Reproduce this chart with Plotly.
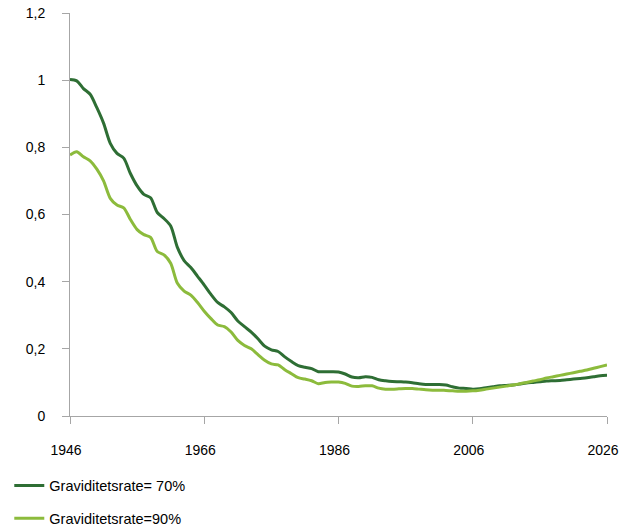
import plotly.graph_objects as go

years = list(range(1946, 2027))

rate70 = [1.002, 0.998, 0.975, 0.958, 0.918, 0.872, 0.812, 0.782, 0.768, 0.722,
          0.685, 0.660, 0.650, 0.606, 0.588, 0.566, 0.502, 0.463, 0.442, 0.416,
          0.390, 0.362, 0.338, 0.325, 0.308, 0.283, 0.266, 0.250, 0.230, 0.208,
          0.197, 0.192, 0.176, 0.162, 0.150, 0.145, 0.141, 0.132, 0.132, 0.132,
          0.131, 0.125, 0.116, 0.114, 0.117, 0.115, 0.108, 0.105, 0.103, 0.102,
          0.101, 0.099, 0.096, 0.094, 0.094, 0.094, 0.092, 0.087, 0.083, 0.082,
          0.080, 0.081, 0.084, 0.087, 0.090, 0.091, 0.092, 0.095, 0.098, 0.100,
          0.102, 0.104, 0.105, 0.106, 0.108, 0.110, 0.112, 0.114, 0.117, 0.120,
          0.121]

rate90 = [0.777, 0.787, 0.772, 0.760, 0.735, 0.700, 0.648, 0.628, 0.620, 0.585,
          0.555, 0.540, 0.532, 0.490, 0.480, 0.455, 0.395, 0.372, 0.360, 0.338,
          0.312, 0.290, 0.271, 0.266, 0.250, 0.225, 0.210, 0.200, 0.183, 0.166,
          0.155, 0.152, 0.138, 0.126, 0.114, 0.110, 0.105, 0.096, 0.100, 0.101,
          0.101, 0.097, 0.089, 0.088, 0.090, 0.090, 0.083, 0.080, 0.080, 0.081,
          0.082, 0.082, 0.080, 0.078, 0.077, 0.077, 0.076, 0.075, 0.074, 0.074,
          0.075, 0.077, 0.080, 0.083, 0.086, 0.089, 0.092, 0.096, 0.100, 0.104,
          0.108, 0.113, 0.117, 0.121, 0.125, 0.129, 0.133, 0.137, 0.142, 0.147,
          0.152]

x_ticks = [1946, 1966, 1986, 2006, 2026]
y_ticks = [0, 0.2, 0.4, 0.6, 0.8, 1.0, 1.2]
y_labels = ["0", "0,2", "0,4", "0,6", "0,8", "1", "1,2"]

names = ["Graviditetsrate= 70%", "Graviditetsrate=90%"]
colors = ["#2E6E34", "#8CBB3C"]

fig = go.Figure()
for i, (vals, name, col) in enumerate(zip([rate70, rate90], names, colors)):
    fig.add_trace(go.Scatter(
        x=years, y=vals, mode="lines", name=name,
        line=dict(color=col, width=3, shape="spline", smoothing=0.8),
        legendgroup=f"g{i}",
    ))

axis_col = "#A6A6A6"
fig.update_layout(
    width=619, height=530,
    margin=dict(l=70, r=12, t=13, b=114, autoexpand=False),
    paper_bgcolor="white", plot_bgcolor="white",
    font=dict(family="Liberation Sans, Arial, sans-serif", size=14, color="#000000"),
    showlegend=True,
    legend=dict(
        orientation="v", xref="container", yref="container",
        x=0.015, y=0.114, xanchor="left", yanchor="top",
        tracegroupgap=11, font=dict(size=14.5),
        bgcolor="rgba(0,0,0,0)",
    ),
    xaxis=dict(
        range=[1946, 2026], tickvals=x_ticks, ticktext=[str(t) for t in x_ticks],
        showline=True, linecolor=axis_col, linewidth=1,
        ticks="outside", ticklen=7, tickcolor=axis_col,
        showgrid=False, zeroline=False, ticklabelstandoff=14,
        ticklabelshift=-4, ticklabeloverflow="allow",
    ),
    yaxis=dict(
        range=[0, 1.2], tickvals=y_ticks, ticktext=y_labels,
        showline=True, linecolor=axis_col, linewidth=1,
        ticks="outside", ticklen=7, tickcolor=axis_col,
        showgrid=False, zeroline=False, ticklabelstandoff=14,
    ),
)

fig.write_html("out.html")
